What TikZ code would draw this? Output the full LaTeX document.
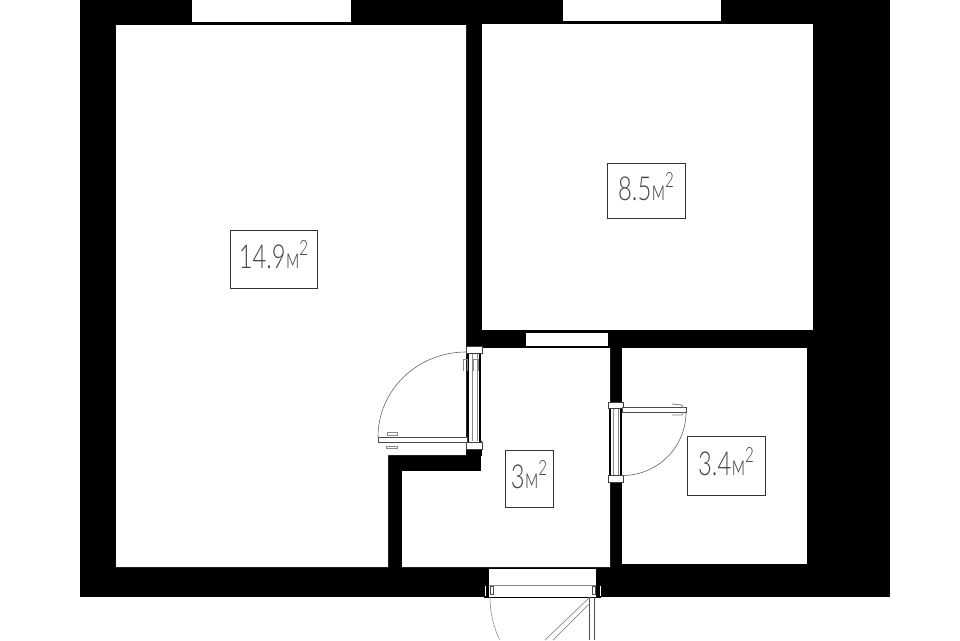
\documentclass[tikz,border=0pt]{standalone}
\usepackage{fontspec}
\usepackage{xcolor}
\definecolor{wallblack}{HTML}{000000}
\definecolor{thinline}{HTML}{8A8A8A}
\definecolor{labelgray}{HTML}{444444}
\newfontfamily\areafont{Lato Light}
\newcommand{\areatxt}[1]{\raisebox{-9.5pt}[0pt][0pt]{\scalebox{0.72}[1]{\fontsize{33}{33}\selectfont\areafont #1}\hspace{0.5pt}\scalebox{0.66}[1]{\fontsize{29}{29}\selectfont\areafont м}\raisebox{13pt}{\scalebox{0.72}[1]{\fontsize{21}{21}\selectfont\areafont 2}}}}
\usetikzlibrary{arrows.meta, positioning, calc}

\begin{document}
\begin{tikzpicture}[
  x=1pt, y=-1pt,
  room/.style={fill=white, draw=none},
  areabox/.style={draw=black!80, line width=0.9pt, inner sep=0pt, text=labelgray},
  frameblock/.style={draw=black!75, fill=white, line width=0.9pt},
  leafedge/.style={draw=black, line width=1.6pt},
  leafinner/.style={draw=thinline, line width=0.7pt},
  swing/.style={draw=black!60, line width=0.6pt},
  handle/.style={draw=thinline, line width=0.9pt}
]
\useasboundingbox (0,0) rectangle (960,640);

% Walls
\fill[wallblack] (80,0) rectangle (890,597);

% Rooms
\fill[room] (116,25) -- (466,25) -- (466,455) -- (388,455) -- (388,567) -- (116,567) -- cycle;
\fill[room] (482,24) rectangle (813,330);
\fill[room] (482,348) -- (610,348) -- (610,567) -- (402,567) -- (402,471) -- (481,471) -- (481,348) -- cycle;
\fill[room] (622,348) rectangle (807,564);

% Windows
\fill[room] (192,0) rectangle (351,22);
\fill[room] (563,0) rectangle (721,21);
\fill[room] (526,333) rectangle (608,346);

% Door to the big room
\fill[wallblack] (466,345) rectangle (482,353);
\fill[wallblack] (466,441) rectangle (482,456);
\fill[room] (467,353) rectangle (481,442);
\draw[leafedge] (468,345) -- (468,448) (480,345) -- (480,448);
\draw[leafinner] (472,353) -- (472,441) (477,353) -- (477,441);
\draw[frameblock] (466,346) rectangle (482,353);
\draw[frameblock] (466,442) rectangle (482,449);
\draw[black!70, line width=0.8pt, fill=white] (378,437) rectangle (467,442);
\draw[swing] (378,437) arc[start angle=180, end angle=270, x radius=88, y radius=85];
\draw[handle] (387,432) rectangle (397,435);
\draw[handle] (386,446) rectangle (397,448);
\draw[handle] (463,371) -- (463,359) -- (467,359) -- (467,371);
\draw[handle] (473,371) -- (473,359) -- (478,359) -- (478,371);

% Door to the small room
\fill[room] (610,408) rectangle (621,475);
\draw[leafedge] (610,402) -- (610,482) (621,402) -- (621,482);
\draw[leafinner] (613,408) -- (613,475) (618,408) -- (618,475);
\draw[frameblock] (608,402) rectangle (623,408);
\draw[frameblock] (608,475) rectangle (623,482);
\draw[black!70, line width=0.8pt, fill=white] (622,407) rectangle (686,412);
\draw[swing] (686,412) arc[start angle=0, end angle=90, radius=63.5];
\draw[handle] (672,404) -- (682,405) -- (683,408);
\draw[handle] (672,415) -- (682,415) -- (683,412);

% Entrance door
\fill[room] (489,569) rectangle (596,597);
\draw[leafinner] (489,585) -- (596,585);
\draw[black, line width=0.9pt] (484,597) -- (601,597);
\draw[white, line width=0.8pt] (485,586) -- (485,596) (600,586) -- (600,596);
\draw[black!70, line width=0.7pt] (490,586) rectangle (493,594) (592,586) rectangle (595,594);
\draw[black!70, line width=0.9pt] (589,597) -- (589,640) (594,597) -- (594,640);
\draw[leafinner] (590,597) -- (545,640);
\draw[leafinner] (590,603) -- (553,640);
\draw[swing, draw=black!45] (490,597) arc[start angle=180, end angle=155, radius=101];

% Area labels
\node[areabox, minimum width=87pt, minimum height=58pt] (bigroom) at (273.5,259) {\areatxt{14.9}};
\node[areabox, minimum width=78pt, minimum height=55pt] (bedroom) at (646,190.5) {\areatxt{8.5}};
\node[areabox, minimum width=48pt, minimum height=57pt] (hall) at (529,478.5) {\areatxt{3}};
\node[areabox, minimum width=78pt, minimum height=59pt] (bath) at (726,465.5) {\areatxt{3.4}};

\end{tikzpicture}
\end{document}
